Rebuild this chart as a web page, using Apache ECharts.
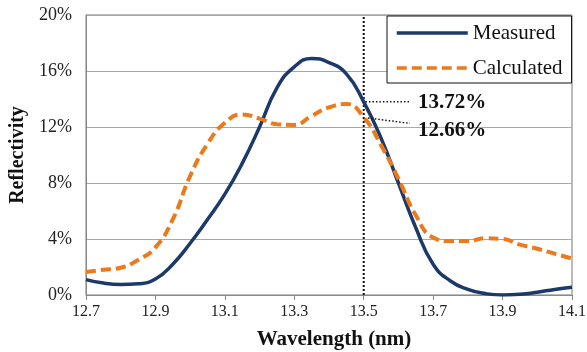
<!DOCTYPE html>
<html>
<head>
<meta charset="utf-8">
<script src="https://cdn.jsdelivr.net/npm/echarts@6/dist/echarts.min.js"></script>
<style>
html,body{margin:0;padding:0;background:#fff;}
#chart{width:587px;height:352px;}
</style>
</head>
<body>
<div id="chart"></div>
<script>
const wavelength = [12.70,12.75,12.80,12.85,12.90,12.95,13.00,13.05,13.10,13.15,13.20,13.25,13.30,13.35,13.40,13.45,13.50,13.55,13.60,13.65,13.70,13.75,13.80,13.85,13.90,13.95,14.00,14.05,14.10];
const measured   = [1.10,0.85,0.75,0.80,1.15,2.2,3.7,5.4,7.2,9.4,12.0,14.8,16.3,16.9,16.6,15.8,13.8,11.2,8.0,4.8,2.2,1.0,0.4,0.1,0.0,0.05,0.2,0.4,0.55];
const calculated = [1.65,1.80,1.95,2.5,3.4,5.4,8.5,10.8,12.3,12.9,12.6,12.2,12.15,12.8,13.4,13.65,12.7,10.7,8.3,5.7,4.1,3.85,3.85,4.05,4.0,3.6,3.3,2.95,2.6];
const xTickLabels = ['12.7','12.9','13.1','13.3','13.5','13.7','13.9','14.1'];
const markerWavelength = 13.5;
const markerRange = [0, 20];
const upperLeader = [[13.505, 13.81], [13.633, 13.81]];
const lowerLeader = [[13.512, 12.64], [13.633, 12.26]];
const upperLabel = '13.72%';
const lowerLabel = '12.66%';

const serif = "'Liberation Serif','Times New Roman',serif";
const chart = echarts.init(document.getElementById('chart'), null, {renderer: 'canvas'});

function pairs(xs, ys) { return xs.map((x, i) => [x, ys[i]]); }
function leaderSeries(pts, text, offset) {
  return {
    type: 'line', xAxisIndex: 1, symbol: 'none', silent: true,
    lineStyle: {color: '#111', width: 1.5, type: [1.5, 2]},
    endLabel: {show: true, distance: 8, offset: offset, formatter: text,
      fontFamily: serif, fontWeight: 'bold', fontSize: 21, color: '#111'},
    labelLayout: {hideOverlap: false},
    data: pts,
    z: 5
  };
}

chart.setOption({
  animation: false,
  grid: {left: 86, right: 15, top: 15, bottom: 57, show: true, borderColor: '#777', borderWidth: 1,
         backgroundColor: 'transparent', containLabel: false, outerBoundsMode: 'none'},
  legend: {
    orient: 'vertical', left: 387, top: 16,
    data: ['Measured', 'Calculated'],
    itemWidth: 71, itemHeight: 14, itemGap: 13,
    padding: [6, 9, 4, 8],
    borderColor: '#111', borderWidth: 1, backgroundColor: '#fff',
    itemStyle: {opacity: 0},
    lineStyle: {width: 3.5},
    textStyle: {fontFamily: serif, fontSize: 21, color: '#111', lineHeight: 22},
    z: 10
  },
  xAxis: [
    {
      type: 'category', data: xTickLabels, boundaryGap: false,
      name: 'Wavelength (nm)', nameLocation: 'middle', nameGap: 34,
      nameTextStyle: {fontFamily: serif, fontWeight: 'bold', fontSize: 21, color: '#111', padding: [0, 0, 0, 10]},
      axisLine: {lineStyle: {color: '#888', width: 1}},
      axisTick: {show: true, length: 5, lineStyle: {color: '#888'}, alignWithLabel: true},
      axisLabel: {fontFamily: serif, fontSize: 16, color: '#222', margin: 9, interval: 0},
      splitLine: {show: false}
    },
    {
      type: 'value', min: 12.7, max: 14.1, show: false,
      splitLine: {show: false}
    }
  ],
  yAxis: {
    type: 'value', min: 0, max: 20, interval: 4,
    name: 'Reflectivity', nameLocation: 'middle', nameGap: 46, nameRotate: 90,
    nameTextStyle: {fontFamily: serif, fontWeight: 'bold', fontSize: 20, color: '#111'},
    axisLine: {show: true, lineStyle: {color: '#888'}},
    axisTick: {show: false},
    axisLabel: {fontFamily: serif, fontSize: 18, color: '#222', margin: 14, formatter: '{value}%'},
    splitLine: {lineStyle: {color: '#a8a8a8', width: 1}}
  },
  series: [
    {
      name: 'Measured', type: 'line', xAxisIndex: 1, symbol: 'none', smooth: 0.5,
      lineStyle: {color: '#1B3A6A', width: 3.5}, itemStyle: {color: '#1B3A6A'},
      data: pairs(wavelength, measured), z: 3
    },
    {
      name: 'Calculated', type: 'line', xAxisIndex: 1, symbol: 'none', smooth: 0.5,
      lineStyle: {color: '#EC7A1C', width: 4, type: [10, 5]}, itemStyle: {color: '#EC7A1C'},
      data: pairs(wavelength, calculated), z: 4
    },
    {
      type: 'line', xAxisIndex: 1, symbol: 'none', silent: true,
      lineStyle: {color: '#111', width: 2, type: [2, 2]},
      data: markerRange.map(v => [markerWavelength, v]), z: 2
    },
    leaderSeries(upperLeader, upperLabel, [0, 1]),
    leaderSeries(lowerLeader, lowerLabel, [0, 7])
  ]
});
</script>
</body>
</html>
